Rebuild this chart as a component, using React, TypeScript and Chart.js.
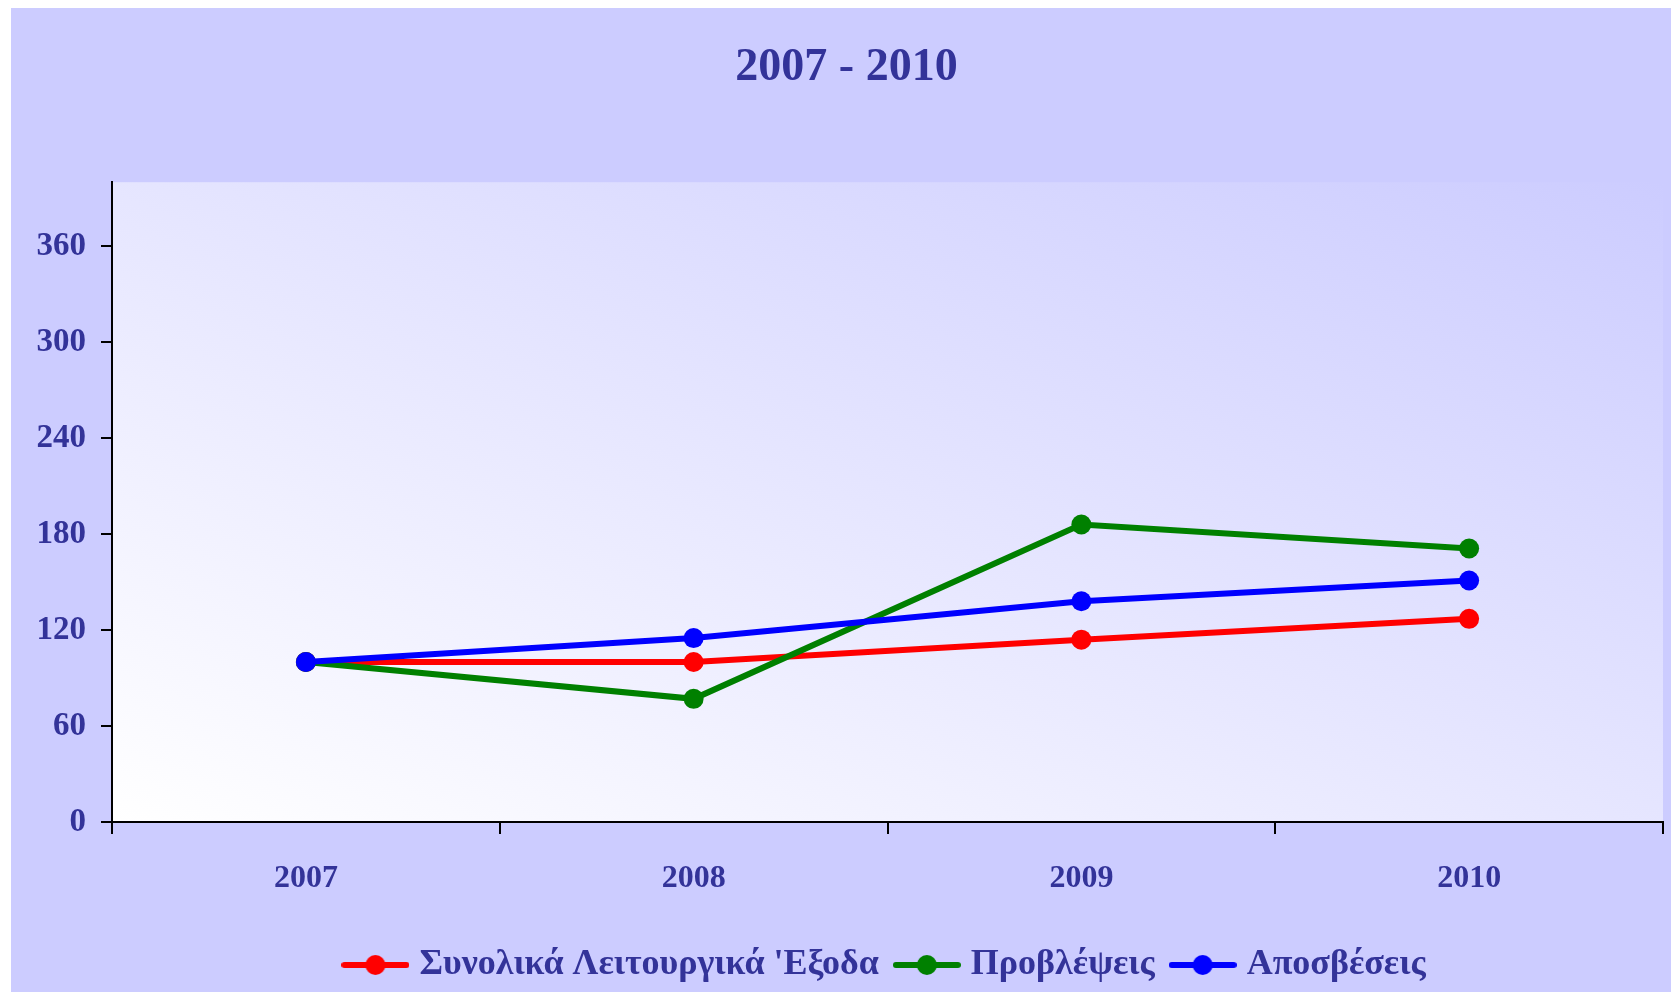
import React, { useEffect, useRef } from 'react';
import { Chart, registerables } from 'chart.js';

Chart.register(...registerables);

const categories = ['2007', '2008', '2009', '2010'];
const totalOpex = [100, 100, 114, 127];
const provisions = [100, 77, 186, 171];
const depreciation = [100, 115, 138, 151];
const yTicks = [0, 60, 120, 180, 240, 300, 360];
const seriesLabels = ["Συνολικά Λειτουργικά 'Εξοδα", 'Προβλέψεις', 'Αποσβέσεις'];
const seriesColors = ['#FF0000', '#008000', '#0000FF'];
const titleText = '2007 - 2010';

const FONT = "'Liberation Serif', 'Times New Roman', serif";
const TEXT = '#333399';

function makeIcon(color: string): HTMLCanvasElement {
  const c = document.createElement('canvas');
  c.width = 68;
  c.height = 24;
  const g = c.getContext('2d')!;
  g.strokeStyle = color;
  g.lineWidth = 6;
  g.lineCap = 'round';
  g.beginPath();
  g.moveTo(3, 12);
  g.lineTo(65, 12);
  g.stroke();
  g.fillStyle = color;
  g.beginPath();
  g.arc(34, 12, 10, 0, Math.PI * 2);
  g.fill();
  return c;
}

const plotBg = {
  id: 'plotBg',
  beforeDraw(chart: any) {
    const { ctx, chartArea } = chart;
    const { left, right, top, bottom } = chartArea;
    const w = right - left;
    const h = bottom - top;
    const len = Math.hypot(w, h);
    const L = (2 * w * h) / len;
    const dx = h / len;
    const dy = -w / len;
    const g = ctx.createLinearGradient(left, bottom, left + dx * L, bottom + dy * L);
    g.addColorStop(0, '#FFFFFF');
    g.addColorStop(1, '#CCCCFF');
    ctx.save();
    ctx.fillStyle = g;
    ctx.fillRect(left, top, w, h);
    ctx.restore();
  },
};

export default function App() {
  const ref = useRef<HTMLCanvasElement | null>(null);

  useEffect(() => {
    document.documentElement.style.overflow = 'hidden';
    document.body.style.overflow = 'hidden';
    const icons = seriesColors.map(makeIcon);
    const series = [totalOpex, provisions, depreciation];
    const order = [2, 1, 0];
    const chart = new Chart(ref.current!, {
      type: 'line',
      data: {
        labels: categories,
        datasets: series.map((d, i) => ({
          label: seriesLabels[i],
          data: d,
          borderColor: seriesColors[i],
          backgroundColor: seriesColors[i],
          pointBackgroundColor: seriesColors[i],
          pointBorderWidth: 0,
          pointRadius: 10,
          borderWidth: 6,
          tension: 0,
          fill: false,
          order: order[i],
        })),
      },
      options: {
        responsive: false,
        animation: false,
        layout: { padding: { left: 19, right: 19, top: 0, bottom: 7 } },
        scales: {
          x: {
            offset: true,
            grid: {
              offset: true,
              drawOnChartArea: false,
              drawTicks: true,
              tickLength: 12,
              color: '#000',
              lineWidth: 2,
            },
            border: { display: true, color: '#000', width: 2 },
            ticks: {
              color: TEXT,
              font: { family: FONT, size: 32, weight: 'bold' },
              padding: 26,
              maxRotation: 0,
              autoSkip: false,
            },
            afterFit: (s: any) => {
              s.height = 103;
            },
          },
          y: {
            min: 0,
            max: 400,
            afterBuildTicks: (s: any) => {
              s.ticks = yTicks.map((v) => ({ value: v }));
            },
            afterFit: (s: any) => {
              s.width = 82;
            },
            grid: {
              drawOnChartArea: false,
              drawTicks: true,
              tickLength: 11,
              color: '#000',
              lineWidth: 2,
            },
            border: { display: true, color: '#000', width: 2 },
            ticks: {
              color: TEXT,
              font: { family: FONT, size: 33, weight: 'bold' },
              padding: 15,
            },
          },
        },
        plugins: {
          title: {
            display: true,
            text: titleText,
            color: TEXT,
            font: { family: FONT, size: 46, weight: 'bold' },
            padding: { top: 33, bottom: 86 },
          },
          legend: {
            position: 'bottom',
            fullSize: false,
            align: 'center',
            labels: {
              usePointStyle: true,
              pointStyleWidth: 52,
              padding: 22,
              color: TEXT,
              font: { family: FONT, size: 36, weight: 'bold' },
              generateLabels: (c: any) =>
                c.data.datasets.map((ds: any, i: number) => ({
                  text: ds.label,
                  pointStyle: icons[i],
                  datasetIndex: i,
                  hidden: false,
                  fillStyle: ds.borderColor,
                  strokeStyle: ds.borderColor,
                  lineWidth: 0,
                  fontColor: TEXT,
                })),
            },
          },
          tooltip: { enabled: false },
        },
      },
      plugins: [plotBg],
    } as any);
    return () => chart.destroy();
  }, []);

  return (
    <div
      style={{
        position: 'absolute',
        left: 11,
        top: 8,
        width: 1660,
        height: 984,
        overflow: 'hidden',
        background: '#CCCCFF',
      }}
    >
      <canvas ref={ref} width={1671} height={992} style={{ display: 'block' }} />
    </div>
  );
}
